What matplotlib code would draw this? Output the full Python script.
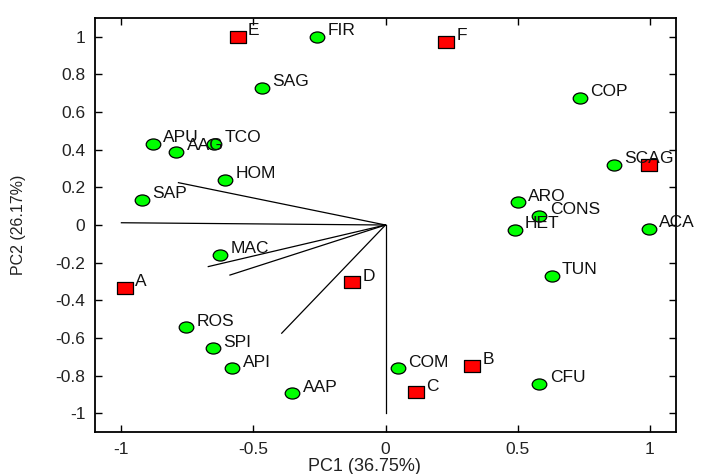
import matplotlib
matplotlib.use("Agg")
import matplotlib.pyplot as plt
import numpy as np
from matplotlib.path import Path

plt.rcParams['font.family'] = ['Liberation Sans', 'DejaVu Sans']
plt.rcParams['axes.unicode_minus'] = False

# Variables (green circles)
var_names = ["FIR", "SAG", "COP", "APU", "TCO", "AAG", "HOM", "SAP", "SCA", "ARO",
             "CONS", "HET", "ACA", "MAC", "TUN", "ROS", "SPI", "API", "AAP", "COM", "CFU"]
var_x = [-0.26, -0.468, 0.736, -0.881, -0.649, -0.793, -0.608, -0.923, 0.864, 0.501,
         0.583, 0.489, 0.997, -0.626, 0.629, -0.755, -0.653, -0.58, -0.353, 0.048, 0.583]
var_y = [1.0, 0.729, 0.676, 0.43, 0.43, 0.389, 0.239, 0.133, 0.319, 0.12,
         0.049, -0.025, -0.02, -0.159, -0.271, -0.543, -0.655, -0.761, -0.894, -0.761, -0.843]

# Samples (red squares)
obs_names = ["A", "B", "C", "D", "E", "F", "G"]
obs_x = [-0.987, 0.329, 0.115, -0.126, -0.56, 0.228, 0.997]
obs_y = [-0.333, -0.749, -0.889, -0.304, 1.0, 0.973, 0.319]

# Loading vectors (from origin)
vec_x = [-1.0, -0.784, -0.671, -0.589, -0.393, 0.0]
vec_y = [0.012, 0.225, -0.221, -0.266, -0.575, -1.0]

xticks = [-1, -0.5, 0, 0.5, 1]
xticklabels = ["-1", "-0.5", "0", "0.5", "1"]
yticks = [-1, -0.8, -0.6, -0.4, -0.2, 0, 0.2, 0.4, 0.6, 0.8, 1]
yticklabels = ["-1", "-0.8", "-0.6", "-0.4", "-0.2", "0", "0.2", "0.4", "0.6", "0.8", "1"]

# Elliptical / flattened markers (the reference is horizontally stretched)
circ = Path.unit_circle()
ellipse = Path(circ.vertices * np.array([1.0, 0.76]), circ.codes)
rect = Path([(-1, -0.73), (1, -0.73), (1, 0.73), (-1, 0.73), (-1, -0.73)],
            [Path.MOVETO, Path.LINETO, Path.LINETO, Path.LINETO, Path.CLOSEPOLY])

fig = plt.figure(figsize=(7.07, 4.74), dpi=100)
ax = fig.add_axes([95 / 707, 42 / 474, 581 / 707, 414 / 474])

for vx, vy in zip(vec_x, vec_y):
    ax.plot([0, vx], [0, vy], color="black", lw=0.9, zorder=2)

ax.plot(var_x, var_y, linestyle="none", marker=ellipse, markersize=10.5,
        markerfacecolor="#00ff00", markeredgecolor="black", markeredgewidth=0.9, zorder=3)
ax.plot(obs_x, obs_y, linestyle="none", marker=rect, markersize=11.5,
        markerfacecolor="#ff0000", markeredgecolor="black", markeredgewidth=0.9, zorder=3)

for n, x, y in zip(var_names, var_x, var_y):
    ax.annotate(n, (x, y), xytext=(7.5, 1.2), textcoords="offset points",
                ha="left", va="baseline", fontsize=12.5, color="#111111", zorder=4)
for n, x, y in zip(obs_names, obs_x, obs_y):
    ax.annotate(n, (x, y), xytext=(7.5, 1.2), textcoords="offset points",
                ha="left", va="baseline", fontsize=12.5, color="#111111", zorder=4)

ax.set_xlim(-1.1, 1.1)
ax.set_ylim(-1.1, 1.1)
ax.set_xticks(xticks)
ax.set_xticklabels(xticklabels)
ax.set_yticks(yticks)
ax.set_yticklabels(yticklabels)
ax.tick_params(direction="in", length=5, width=1, top=True, right=True,
               labelsize=12.5, pad=7, colors="black", labelcolor="#222222")
for s in ax.spines.values():
    s.set_linewidth(1.3)

ax.set_xlabel("PC1 (36.75%)", fontsize=13, color="#222222")
ax.xaxis.set_label_coords(0.463, -0.062)
ax.xaxis.label.set_va("top")
ax.set_ylabel("PC2 (26.17%)", fontsize=11.5, color="#222222")
ax.yaxis.set_label_coords(-0.131, 0.5)
ax.yaxis.label.set_va("center")

fig.savefig("out.png", dpi=100)
